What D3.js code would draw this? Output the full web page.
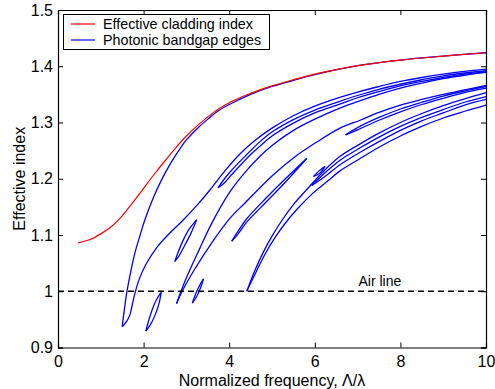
<!DOCTYPE html>
<html><head><meta charset="utf-8">
<script src="https://cdn.jsdelivr.net/npm/d3@7"></script>
<style>
body{margin:0;background:#fff}
svg{display:block}
text{font-family:"Liberation Sans",Arial,Helvetica,sans-serif;fill:#000}
</style>
</head><body>
<svg id="chart" width="495" height="389"></svg>
<script>
// ---------- data ----------
const xTicks = [0, 2, 4, 6, 8, 10];
const xTickLabels = ["0", "2", "4", "6", "8", "10"];
const yTicks = [0.9, 1.0, 1.1, 1.2, 1.3, 1.4, 1.5];
const yTickLabels = ["0.9", "1", "1.1", "1.2", "1.3", "1.4", "1.5"];
const airLineIndex = 1.0;
const legendLabels = ["Effective cladding index", "Photonic bandgap edges"];

// effective cladding index (red)
const cladding = [[0.47,1.086],[0.75,1.092],[1.0,1.102],[1.25,1.115],[1.5,1.134],[1.75,1.158],[2.0,1.183],[2.25,1.208],[2.5,1.232],[2.75,1.255],[3.0,1.276],[3.25,1.294],[3.5,1.310],[3.75,1.324],[4.0,1.335],[4.25,1.344],[4.5,1.352],[4.75,1.359],[5.0,1.365],[5.5,1.376],[6.0,1.386],[6.5,1.394],[7.0,1.401],[8.0,1.411],[9.0,1.418],[10,1.424]];

// photonic bandgap edges (blue), each edge one array of [freq, index]
const gapA_upper = [[1.50,0.937],[1.555,0.970],[1.605,0.997],[1.70,1.035],[1.80,1.069],[1.92,1.100],[2.03,1.127],[2.22,1.165],[2.42,1.198],[2.62,1.226],[2.82,1.250],[3.0,1.269],[3.25,1.289],[3.5,1.306],[3.75,1.321],[4.0,1.332],[4.5,1.350],[5.0,1.364],[5.5,1.375],[6.0,1.385],[7.0,1.401],[8.0,1.411],[9.0,1.418],[10,1.424]];
const gapA_lower = [[1.50,0.937],[1.60,0.946],[1.68,0.958],[1.74,0.978],[1.80,0.997],[1.90,1.022],[2.05,1.047],[2.31,1.078],[2.62,1.104],[2.93,1.127],[3.25,1.153],[3.55,1.180],[3.9,1.214],[4.25,1.244],[4.6,1.268],[5.0,1.290],[5.5,1.312],[6.0,1.329],[6.6,1.345],[7.0,1.354],[7.5,1.364],[8.0,1.373],[8.5,1.380],[9.0,1.386],[9.5,1.391],[10,1.395]];
const gapB_left = [[2.05,0.929],[2.12,0.948],[2.20,0.967],[2.30,0.985],[2.41,0.998]];
const gapB_right = [[2.05,0.929],[2.17,0.942],[2.27,0.958],[2.36,0.978],[2.41,0.998]];
const gapC_left = [[2.73,1.053],[2.80,1.068],[2.92,1.090],[3.06,1.110],[3.24,1.127]];
const gapC_right = [[2.73,1.053],[2.82,1.062],[2.95,1.080],[3.10,1.102],[3.24,1.127]];
const gapD_upper = [[2.77,0.978],[2.85,0.995],[3.0,1.024],[3.3,1.074],[3.6,1.122],[4.02,1.177],[4.4,1.214],[4.72,1.240],[5.0,1.259],[5.5,1.286],[6.0,1.306],[6.6,1.326],[7.0,1.337],[7.5,1.350],[8.0,1.361],[8.5,1.370],[9.0,1.378],[9.5,1.384],[10,1.389]];
const gapD_lower = [[2.77,0.978],[2.90,1.0],[3.2,1.040],[3.6,1.087],[4.02,1.130],[4.37,1.157],[5.0,1.205],[5.5,1.237],[6.0,1.263],[6.59,1.290],[7.06,1.304],[7.5,1.318],[8.0,1.331],[8.5,1.341],[9.0,1.350],[9.5,1.358],[10,1.366]];
const gapE_upper = [[3.74,1.184],[3.85,1.196],[4.02,1.212],[4.5,1.250],[4.72,1.266],[5.0,1.283],[5.5,1.305],[6.0,1.322],[6.6,1.338],[7.0,1.348],[7.5,1.359],[8.0,1.368],[8.5,1.376],[9.0,1.383],[9.5,1.388],[10,1.392]];
const gapE_lower = [[3.74,1.184],[3.88,1.192],[4.02,1.204],[4.5,1.243],[4.72,1.258],[5.0,1.276],[5.5,1.299],[6.0,1.317],[6.6,1.333],[7.0,1.344],[7.5,1.355],[8.0,1.365],[8.5,1.373],[9.0,1.380],[9.5,1.386],[10,1.390]];
const gapF_upper = [[4.06,1.089],[4.2,1.106],[4.4,1.128],[4.88,1.167],[5.3,1.199],[5.81,1.236]];
const gapF_lower = [[4.06,1.089],[4.2,1.101],[4.4,1.122],[4.88,1.160],[5.3,1.193],[5.81,1.236]];
const gapG_upper = [[4.41,1.0],[4.6,1.037],[4.8,1.070],[5.0,1.098],[5.25,1.128],[5.5,1.154],[5.85,1.184],[6.2,1.213],[6.59,1.240],[7.06,1.262],[7.5,1.281],[8.0,1.300],[8.5,1.316],[9.0,1.330],[9.5,1.342],[10,1.353]];
const gapG_lower = [[4.41,1.0],[4.62,1.033],[4.83,1.065],[5.05,1.093],[5.3,1.120],[5.6,1.147],[5.95,1.174],[6.3,1.196],[6.59,1.214],[7.06,1.236],[7.5,1.256],[8.0,1.276],[8.5,1.293],[9.0,1.308],[9.5,1.320],[10,1.331]];
const gapH_upper = [[6.72,1.278],[7.0,1.291],[7.5,1.309],[8.0,1.324],[8.5,1.336],[9.0,1.347],[9.5,1.356],[10,1.364]];
const gapH_lower = [[6.72,1.278],[7.0,1.287],[7.5,1.304],[8.0,1.319],[8.5,1.332],[9.0,1.343],[9.5,1.353],[10,1.361]];
const gapI_left = [[3.14,0.979],[3.22,0.996],[3.32,1.012],[3.40,1.022]];
const gapI_right = [[3.14,0.979],[3.25,0.992],[3.34,1.008],[3.40,1.022]];
const gapJ_upper = [[5.97,1.204],[6.10,1.214],[6.24,1.222]];
const gapJ_lower = [[5.97,1.204],[6.12,1.210],[6.24,1.222]];
const gapK_upper = [[5.93,1.188],[6.2,1.208],[6.59,1.233],[7.06,1.255],[7.5,1.274],[8.0,1.293],[8.5,1.309],[9.0,1.323],[9.5,1.336],[10,1.346]];
const gapK_lower = [[5.93,1.188],[6.22,1.203],[6.59,1.225],[7.06,1.247],[7.5,1.266],[8.0,1.286],[8.5,1.303],[9.0,1.317],[9.5,1.331],[10,1.341]];

const bandEdges = [gapA_upper, gapA_lower, gapB_left, gapB_right, gapC_left, gapC_right,
  gapD_upper, gapD_lower, gapE_upper, gapE_lower, gapF_upper, gapF_lower,
  gapG_upper, gapG_lower, gapH_upper, gapH_lower, gapI_left, gapI_right,
  gapJ_upper, gapJ_lower, gapK_upper, gapK_lower];

// ---------- drawing ----------
(function () {
const svg = d3.select("#chart");
const mLeft = 58, mRight = 486, mTop = 10, mBottom = 347.5;
const x = d3.scaleLinear().domain([0, 10]).range([mLeft, mRight]);
const y = d3.scaleLinear().domain([0.9, 1.5]).range([mBottom, mTop]);

svg.append("rect").attr("width", 495).attr("height", 389).attr("fill", "#fff");

const line = d3.line().x(d => x(d[0])).y(d => y(d[1])).curve(d3.curveCatmullRom.alpha(0.5));

const g = svg.append("g");
g.selectAll("path.edge").data(bandEdges).enter().append("path")
  .attr("class", "edge").attr("d", line)
  .attr("fill", "none").attr("stroke", "#0000ff").attr("stroke-width", 1.3);

g.append("path").datum(cladding).attr("d", line)
  .attr("fill", "none").attr("stroke", "#ff0000").attr("stroke-width", 1.2);

// air line
svg.append("line").attr("x1", x(0)).attr("x2", x(10)).attr("y1", y(airLineIndex)).attr("y2", y(airLineIndex))
  .attr("stroke", "#000").attr("stroke-width", 1.3).attr("stroke-dasharray", "6,4");
svg.append("text").attr("x", x(7.02)).attr("y", y(airLineIndex) - 5)
  .attr("font-size", 14).text("Air line");

// axes
const fs = 16;
const ax = svg.append("g").attr("transform", `translate(0,${mBottom})`)
  .call(d3.axisBottom(x).tickValues(xTicks).tickFormat((d, i) => xTickLabels[i]).tickSize(-5).tickPadding(8));
const ay = svg.append("g").attr("transform", `translate(${mLeft},0)`)
  .call(d3.axisLeft(y).tickValues(yTicks).tickFormat((d, i) => yTickLabels[i]).tickSize(-5).tickPadding(5));
const at = svg.append("g").attr("transform", `translate(0,${mTop})`)
  .call(d3.axisTop(x).tickValues(xTicks).tickFormat("").tickSize(-5));
const ar = svg.append("g").attr("transform", `translate(${mRight},0)`)
  .call(d3.axisRight(y).tickValues(yTicks).tickFormat("").tickSize(-5));
[ax, ay, at, ar].forEach(a => {
  a.selectAll("path.domain").attr("stroke", "#000").attr("stroke-width", 1.2);
  a.selectAll("line").attr("stroke", "#000").attr("stroke-width", 1);
  a.selectAll("text").attr("font-size", fs).attr("font-family", '"Liberation Sans",Arial,sans-serif').attr("fill", "#000");
});

// axis titles
svg.append("text").attr("x", (mLeft + mRight) / 2).attr("y", 385.5).attr("text-anchor", "middle")
  .attr("font-size", fs).text("Normalized frequency, Λ/λ");
svg.append("text").attr("transform", `translate(25,${(mTop + mBottom) / 2}) rotate(-90)`)
  .attr("text-anchor", "middle").attr("font-size", fs).text("Effective index");

// legend
const lg = svg.append("g");
lg.append("rect").attr("x", 63.5).attr("y", 14.5).attr("width", 206).attr("height", 35)
  .attr("fill", "#fff").attr("stroke", "#000").attr("stroke-width", 1);
const legColors = ["#ff0000", "#0000ff"];
legendLabels.forEach((t, i) => {
  const yy = 24 + i * 16;
  lg.append("line").attr("x1", 71).attr("x2", 95).attr("y1", yy).attr("y2", yy)
    .attr("stroke", legColors[i]).attr("stroke-width", 1.2);
  lg.append("text").attr("x", 103).attr("y", yy + 5).attr("font-size", 14.3).text(t);
});
})();
</script>
</body></html>
